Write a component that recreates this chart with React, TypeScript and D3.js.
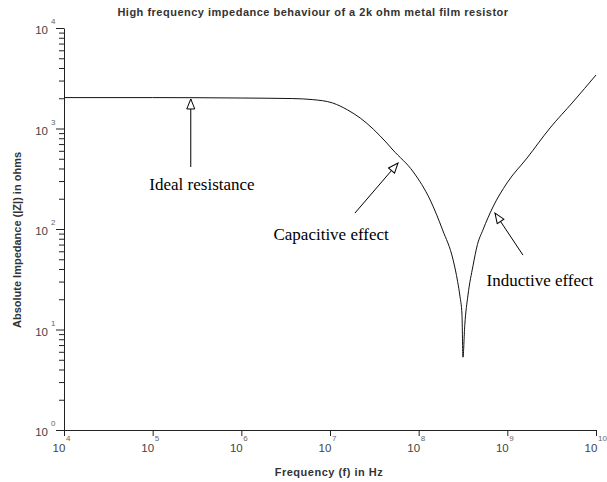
import React, { useEffect, useRef } from 'react';
import * as d3 from 'd3';

// values (Hz, ohms)
const freqHz = [1e4, 1e5, 1e6, 3.8e6, 6.3e6, 1.07e7, 1.58e7, 2.19e7, 4.37e7, 5.13e7, 8.71e7, 1.35e8, 1.86e8, 2.45e8, 2.75e8, 2.92e8, 3.08e8, 3.16e8, 3.31e8, 3.6e8, 4.1e8, 4.6e8, 5.31e8, 6.89e8, 9.91e8, 1.67e9, 3.03e9, 5.5e9, 1e10];
const impedance = [2030, 2030, 2010, 1985, 1940, 1795, 1530, 1272, 717, 611, 369, 194, 98, 49, 30, 21.5, 14, 5.3, 11, 22, 43, 70, 98, 166, 287, 509, 1012, 1836, 3406];

const xDecades = [4, 5, 6, 7, 8, 9, 10];
const yDecades = [0, 1, 2, 3, 4];

const annotations = [
  { label: 'Ideal resistance', tail: [2.69e5, 414], tip: [2.69e5, 1967], text: [3.6e5, 274] },
  { label: 'Capacitive effect', tail: [1.91e7, 144], tip: [5.85e7, 454], text: [1.03e7, 87] },
  { label: 'Inductive effect', tail: [1.5e9, 55], tip: [7.26e8, 144], text: [2.33e9, 30.4] },
];

const W = 607;
const H = 482;
const sans = "Arial, 'Liberation Sans', sans-serif";
const serif = "'Times New Roman', 'Liberation Serif', serif";

export default function App() {
  const svgRef = useRef<SVGSVGElement>(null);

  useEffect(() => {
    if (!svgRef.current) return;
    const svg = d3.select(svgRef.current);
    svg.selectAll('*').remove();

    const x = d3.scaleLog().domain([1e4, 1e10]).range([64, 596]);
    const y = d3.scaleLog().domain([1, 1e4]).range([430, 28]);

    svg.append('rect').attr('width', W).attr('height', H).attr('fill', '#fff');

    const defs = svg.append('defs');
    defs.append('marker')
      .attr('id', 'openArrow')
      .attr('viewBox', '0 0 12 10')
      .attr('refX', 11)
      .attr('refY', 5)
      .attr('markerWidth', 12)
      .attr('markerHeight', 10)
      .attr('markerUnits', 'userSpaceOnUse')
      .attr('orient', 'auto')
      .append('path')
      .attr('d', 'M1,1 L11,5 L1,9 Z')
      .attr('fill', '#fff')
      .attr('stroke', '#000')
      .attr('stroke-width', 1);

    // y axis: minor then major ticks
    const minor: number[] = [];
    yDecades.slice(0, -1).forEach(d => {
      for (let k = 2; k <= 9; k++) minor.push(k * Math.pow(10, d));
    });
    const yMinor = svg.append('g').attr('transform', 'translate(64,0)')
      .call(d3.axisLeft(y).tickValues(minor).tickSize(5).tickSizeOuter(0).tickFormat(() => ''));
    yMinor.select('.domain').remove();
    const yMajor = svg.append('g').attr('transform', 'translate(64,0)')
      .call(d3.axisLeft(y).tickValues(yDecades.map(d => Math.pow(10, d))).tickSize(8).tickSizeOuter(0).tickFormat(() => ''));
    svg.selectAll('.tick line').attr('stroke', '#222');
    yMajor.select('.domain').attr('stroke', '#222');

    const xAxis = svg.append('g').attr('transform', 'translate(0,430)')
      .call(d3.axisBottom(x).tickValues(xDecades.map(d => Math.pow(10, d))).tickSize(6).tickSizeOuter(0).tickFormat(() => ''));
    xAxis.selectAll('line').attr('stroke', '#222');
    xAxis.select('.domain').attr('stroke', '#222');

    // tick labels
    yDecades.forEach(d => {
      const yy = y(Math.pow(10, d));
      svg.append('text').attr('x', 48).attr('y', yy + 6).attr('text-anchor', 'end')
        .attr('font-family', sans).attr('font-size', 11.5).attr('fill', '#444').text('10');
      svg.append('text').attr('x', 51).attr('y', yy - 4)
        .attr('font-family', sans).attr('font-size', 8).attr('fill', '#666').text(String(d));
    });
    xDecades.forEach(d => {
      const xx = x(Math.pow(10, d));
      svg.append('text').attr('x', xx - 5).attr('y', 452).attr('text-anchor', 'middle')
        .attr('font-family', sans).attr('font-size', 11.5).attr('fill', '#444').text('10');
      svg.append('text').attr('x', xx + 2).attr('y', 441)
        .attr('font-family', sans).attr('font-size', 8).attr('fill', '#666').text(String(d));
    });

    // titles
    svg.append('text').attr('x', 313).attr('y', 16).attr('text-anchor', 'middle')
      .attr('font-family', sans).attr('font-size', 11).attr('font-weight', 'bold')
      .attr('letter-spacing', 0.5).attr('fill', '#333')
      .text('High frequency impedance behaviour of a 2k ohm metal film resistor');
    svg.append('text').attr('x', 329).attr('y', 476).attr('text-anchor', 'middle')
      .attr('font-family', sans).attr('font-size', 11).attr('font-weight', 'bold')
      .attr('letter-spacing', 0.5).attr('fill', '#333')
      .text('Frequency  (f) in Hz');
    svg.append('text').attr('transform', 'translate(21,240) rotate(-90)').attr('text-anchor', 'middle')
      .attr('font-family', sans).attr('font-size', 11).attr('font-weight', 'bold').attr('fill', '#333')
      .text('Absolute Impedance (|Z|) in ohms');

    // curve
    const line = d3.line<number>()
      .x(i => x(freqHz[i]))
      .y(i => y(impedance[i]))
      .curve(d3.curveMonotoneX);
    svg.append('path')
      .attr('d', line(d3.range(freqHz.length)))
      .attr('fill', 'none')
      .attr('stroke', '#111')
      .attr('stroke-width', 1);

    // annotations
    annotations.forEach(a => {
      svg.append('line')
        .attr('x1', x(a.tail[0])).attr('y1', y(a.tail[1]))
        .attr('x2', x(a.tip[0])).attr('y2', y(a.tip[1]))
        .attr('stroke', '#000').attr('stroke-width', 1)
        .attr('marker-end', 'url(#openArrow)');
      svg.append('text')
        .attr('x', x(a.text[0])).attr('y', y(a.text[1]) + 5)
        .attr('text-anchor', 'middle')
        .attr('font-family', serif).attr('font-size', 17).attr('fill', '#000')
        .text(a.label);
    });
  }, []);

  return (
    <div style={{ position: 'absolute', left: 0, top: 0 }}>
      <svg ref={svgRef} width={W} height={H} style={{ display: 'block' }} />
    </div>
  );
}
